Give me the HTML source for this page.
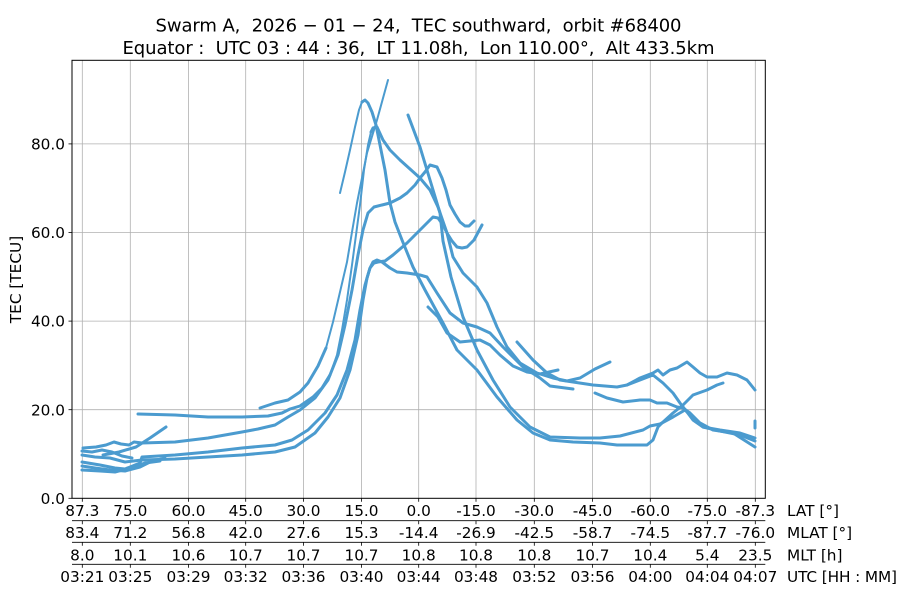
<!DOCTYPE html>
<html>
<head>
<meta charset="utf-8">
<style>
  html, body { margin:0; padding:0; background:#fff; }
  svg { display:block; }
  text { font-family: "DejaVu Sans", "Liberation Sans", sans-serif; fill:#000; }
</style>
</head>
<body>
<svg width="900" height="600" viewBox="0 0 900 600" xmlns="http://www.w3.org/2000/svg">
  <rect x="0" y="0" width="900" height="600" fill="#fff"/>

  <!-- Title -->
  <text x="418.5" y="31.7" font-size="18" text-anchor="middle" textLength="526" lengthAdjust="spacing" xml:space="preserve">Swarm A,  2026 − 01 − 24,  TEC southward,  orbit #68400</text>
  <text x="418.5" y="54" font-size="18" text-anchor="middle" textLength="592" lengthAdjust="spacing" xml:space="preserve">Equator :  UTC 03 : 44 : 36,  LT 11.08h,  Lon 110.00°,  Alt 433.5km</text>

  <!-- Grid -->
  <g stroke="#b0b0b0" stroke-width="0.8" fill="none">
    <line x1="82.3" y1="60.3" x2="82.3" y2="498.3"/>
    <line x1="130.3" y1="60.3" x2="130.3" y2="498.3"/>
    <line x1="188.5" y1="60.3" x2="188.5" y2="498.3"/>
    <line x1="245.7" y1="60.3" x2="245.7" y2="498.3"/>
    <line x1="303.5" y1="60.3" x2="303.5" y2="498.3"/>
    <line x1="361.5" y1="60.3" x2="361.5" y2="498.3"/>
    <line x1="418.7" y1="60.3" x2="418.7" y2="498.3"/>
    <line x1="476" y1="60.3" x2="476" y2="498.3"/>
    <line x1="534.3" y1="60.3" x2="534.3" y2="498.3"/>
    <line x1="592.5" y1="60.3" x2="592.5" y2="498.3"/>
    <line x1="650.3" y1="60.3" x2="650.3" y2="498.3"/>
    <line x1="707.3" y1="60.3" x2="707.3" y2="498.3"/>
    <line x1="755.3" y1="60.3" x2="755.3" y2="498.3"/>
    <line x1="72" y1="409.7" x2="765.3" y2="409.7"/>
    <line x1="72" y1="321.1" x2="765.3" y2="321.1"/>
    <line x1="72" y1="232.5" x2="765.3" y2="232.5"/>
    <line x1="72" y1="143.9" x2="765.3" y2="143.9"/>
  </g>

  <!-- Data -->
  <g fill="none" stroke="#4b9bcf" stroke-linejoin="round" stroke-linecap="round">
    <!-- Pass A (steep to 94) -->
    <polyline stroke-width="3" points="260,408 275,403 288,400 300,392 308,383 318,366 326,348"/>
    <polyline stroke-width="2" points="326,348 333,322 340,292 347,262 352,232 357,203 362,178 367,153 377,120 388,80"/>
    <!-- Pass B (flat 18.5 -> 84 peak) -->
    <polyline stroke-width="3" points="138,414 175,415 208,417 242,417 268,416 282,413 290,409 300,406 313,397 322,388 330,375"/>
    <polyline stroke-width="2" points="330,375 337,355 342,330 347,300 352,265 356,235 360,205 364,170 368,145 371,132"/>
    <polyline stroke-width="3" points="371,132 373,128 377,127 383,140 390,150 400,160 420,178 430,190 438,207 447,233 453,257 463,273 477,287 487,303 497,327 507,347 520,363 537,373 553,378 567,381 580,378 595,369 610,362"/>
    <!-- T1 (89 peak) -->
    <polyline stroke-width="2" points="340,193 345,172 350,150 355,127 359,110 362,102"/>
    <polyline stroke-width="3" points="362,102 365,100 368,103 372,112 376,125 380,145 385,170 390,203 395,222 402,240 413,267 425,290 443,323 457,350 477,370 497,397 517,420 533,433 550,440 573,442 600,443 617,445 647,445 653,440 658,427 662,423 673,413 683,405 693,395 707,390 717,385 723,383"/>
    <!-- D (steep from 408,115) -->
    <polyline stroke-width="3" points="408,115 420,147 430,180 440,213 443,241 451,277 463,317 477,350 493,380 510,407 530,427 550,437 580,438 600,438 620,436 643,430 650,426 660,424 673,417 685,410 693,418 703,427 720,431 740,435 755,441"/>
    <!-- S1 (75 peak) -->
    <polyline stroke-width="3" points="83,448 96,447 106,445 114,442 121,444 129,445 134,442 142,443 175,442 208,438 225,435 242,432 258,429 275,425 288,417 300,410 315,398 328,380 338,355 345,325 352,290 358,255 363,230 368,213 374,207 382,205 390,203 400,198 407,193 415,185 420,178 425,172 430,165 437,167 442,178 446,190 450,205 455,214 460,222 465,226 469,226 474,221"/>
    <!-- S2 (63 peak) -->
    <polyline stroke-width="3" points="82,462 100,465 115,468 125,469 140,463 142,457 175,455 208,452 242,448 275,445 292,440 308,430 325,413 337,395 347,370 355,340 360,310 365,285 370,268 374,263 378,262 385,261 393,255 407,243 420,230 428,222 433,217 438,218 443,225 447,233 452,241 457,247 462,248 467,247 474,240 482,225"/>
    <!-- S3 (53 hump, 50 shoulder) -->
    <polyline stroke-width="3" points="82,455 95,457 110,458 125,462 142,460 175,459 208,457 242,455 275,452 295,447 315,433 328,417 340,398 350,370 358,335 363,300 367,278 370,268 373,262 377,260 382,262 390,268 397,272 407,273 420,275 427,277 437,293 450,313 463,323 477,327 490,333 503,347 523,367 540,378 550,386 573,389"/>
    <!-- Segment starting ~43 -->
    <polyline stroke-width="3" points="428,307 438,317 447,333 460,342 470,341 480,340 490,345 500,355 513,366 527,372 540,374 558,370"/>
    <!-- Segment from 517,342 to right -->
    <polyline stroke-width="3" points="517,342 533,360 547,373 560,380 573,382 593,385 617,387 627,385 640,378 653,373 658,370 663,375 670,370 677,368 687,362 693,367 700,373 707,377 717,377 727,373 737,375 747,380 755,390"/>
    <!-- Segment from 595,393 -->
    <polyline stroke-width="3" points="595,393 607,398 623,402 640,400 650,400 657,403 667,403 677,407 683,408 690,413 700,423 713,430 733,433 755,447"/>
    <!-- Crossing segment -->
    <polyline stroke-width="3" points="627,385 640,380 653,375 663,383 673,393 680,403 687,412 693,420 703,427 720,430 740,433 755,438"/>
    <polyline stroke-width="3" points="755,421 755,428"/>
    <!-- Left cluster extras -->
    <polyline stroke-width="3" points="103,455 119,452 136,447 150,438 166,427"/>
    <polyline stroke-width="3" points="82,466 95,468 110,470 125,471 140,467 150,462 165,458"/>
    <polyline stroke-width="3" points="82,470 100,471 115,472 130,468 145,463 160,461"/>
    <polyline stroke-width="3" points="82,451 92,452 102,450 112,452 122,456 132,458"/>
  </g>

  <!-- Axes frame -->
  <rect x="72" y="60.3" width="693.3" height="438" fill="none" stroke="#000" stroke-width="1"/>

  <!-- Y ticks -->
  <g stroke="#000" stroke-width="0.8">
    <line x1="68.5" y1="498.3" x2="72" y2="498.3"/>
    <line x1="68.5" y1="409.7" x2="72" y2="409.7"/>
    <line x1="68.5" y1="321.1" x2="72" y2="321.1"/>
    <line x1="68.5" y1="232.5" x2="72" y2="232.5"/>
    <line x1="68.5" y1="143.9" x2="72" y2="143.9"/>
  </g>
  <g font-size="15.3" text-anchor="end">
    <text x="65" y="504">0.0</text>
    <text x="65" y="415.3">20.0</text>
    <text x="65" y="326.7">40.0</text>
    <text x="65" y="238.1">60.0</text>
    <text x="65" y="149.5">80.0</text>
  </g>
  <text transform="translate(21,279.5) rotate(-90)" font-size="15.3" text-anchor="middle">TEC [TECU]</text>

  <!-- Secondary axis spines -->
  <g stroke="#000" stroke-width="0.8">
    <line x1="72" y1="520.7" x2="765.3" y2="520.7"/>
    <line x1="72" y1="542.3" x2="765.3" y2="542.3"/>
    <line x1="72" y1="564.3" x2="765.3" y2="564.3"/>
  </g>
  <!-- X ticks on all spines -->
  <g stroke="#000" stroke-width="0.8">
    <path d="M82.3 498.3v3.5M130.3 498.3v3.5M188.5 498.3v3.5M245.7 498.3v3.5M303.5 498.3v3.5M361.5 498.3v3.5M418.7 498.3v3.5M476 498.3v3.5M534.3 498.3v3.5M592.5 498.3v3.5M650.3 498.3v3.5M707.3 498.3v3.5M755.3 498.3v3.5"/>
    <path d="M82.3 520.7v3.5M130.3 520.7v3.5M188.5 520.7v3.5M245.7 520.7v3.5M303.5 520.7v3.5M361.5 520.7v3.5M418.7 520.7v3.5M476 520.7v3.5M534.3 520.7v3.5M592.5 520.7v3.5M650.3 520.7v3.5M707.3 520.7v3.5M755.3 520.7v3.5"/>
    <path d="M82.3 542.3v3.5M130.3 542.3v3.5M188.5 542.3v3.5M245.7 542.3v3.5M303.5 542.3v3.5M361.5 542.3v3.5M418.7 542.3v3.5M476 542.3v3.5M534.3 542.3v3.5M592.5 542.3v3.5M650.3 542.3v3.5M707.3 542.3v3.5M755.3 542.3v3.5"/>
    <path d="M82.3 564.3v3.5M130.3 564.3v3.5M188.5 564.3v3.5M245.7 564.3v3.5M303.5 564.3v3.5M361.5 564.3v3.5M418.7 564.3v3.5M476 564.3v3.5M534.3 564.3v3.5M592.5 564.3v3.5M650.3 564.3v3.5M707.3 564.3v3.5M755.3 564.3v3.5"/>
  </g>

  <!-- LAT row -->
  <g font-size="15.3" text-anchor="middle">
    <text x="82.3" y="516">87.3</text>
    <text x="130.3" y="516">75.0</text>
    <text x="188.5" y="516">60.0</text>
    <text x="245.7" y="516">45.0</text>
    <text x="303.5" y="516">30.0</text>
    <text x="361.5" y="516">15.0</text>
    <text x="418.7" y="516">0.0</text>
    <text x="476" y="516">-15.0</text>
    <text x="534.3" y="516">-30.0</text>
    <text x="592.5" y="516">-45.0</text>
    <text x="650.3" y="516">-60.0</text>
    <text x="707.3" y="516">-75.0</text>
    <text x="755.3" y="516">-87.3</text>
  </g>
  <!-- MLAT row -->
  <g font-size="15.3" text-anchor="middle">
    <text x="82.3" y="538">83.4</text>
    <text x="130.3" y="538">71.2</text>
    <text x="188.5" y="538">56.8</text>
    <text x="245.7" y="538">42.0</text>
    <text x="303.5" y="538">27.6</text>
    <text x="361.5" y="538">15.3</text>
    <text x="418.7" y="538">-14.4</text>
    <text x="476" y="538">-26.9</text>
    <text x="534.3" y="538">-42.5</text>
    <text x="592.5" y="538">-58.7</text>
    <text x="650.3" y="538">-74.5</text>
    <text x="707.3" y="538">-87.7</text>
    <text x="755.3" y="538">-76.0</text>
  </g>
  <!-- MLT row -->
  <g font-size="15.3" text-anchor="middle">
    <text x="82.3" y="560.5">8.0</text>
    <text x="130.3" y="560.5">10.1</text>
    <text x="188.5" y="560.5">10.6</text>
    <text x="245.7" y="560.5">10.7</text>
    <text x="303.5" y="560.5">10.7</text>
    <text x="361.5" y="560.5">10.7</text>
    <text x="418.7" y="560.5">10.8</text>
    <text x="476" y="560.5">10.8</text>
    <text x="534.3" y="560.5">10.8</text>
    <text x="592.5" y="560.5">10.7</text>
    <text x="650.3" y="560.5">10.4</text>
    <text x="707.3" y="560.5">5.4</text>
    <text x="755.3" y="560.5">23.5</text>
  </g>
  <!-- UTC row -->
  <g font-size="15.3" text-anchor="middle">
    <text x="82.3" y="582">03:21</text>
    <text x="130.3" y="582">03:25</text>
    <text x="188.5" y="582">03:29</text>
    <text x="245.7" y="582">03:32</text>
    <text x="303.5" y="582">03:36</text>
    <text x="361.5" y="582">03:40</text>
    <text x="418.7" y="582">03:44</text>
    <text x="476" y="582">03:48</text>
    <text x="534.3" y="582">03:52</text>
    <text x="592.5" y="582">03:56</text>
    <text x="650.3" y="582">04:00</text>
    <text x="707.3" y="582">04:04</text>
    <text x="755.3" y="582">04:07</text>
  </g>

  <!-- Right-side row labels -->
  <g font-size="15.3">
    <text x="787" y="516">LAT [°]</text>
    <text x="787" y="538">MLAT [°]</text>
    <text x="787" y="560.5">MLT [h]</text>
    <text x="787" y="582" textLength="110" lengthAdjust="spacing" xml:space="preserve">UTC [HH : MM]</text>
  </g>
</svg>
</body>
</html>
